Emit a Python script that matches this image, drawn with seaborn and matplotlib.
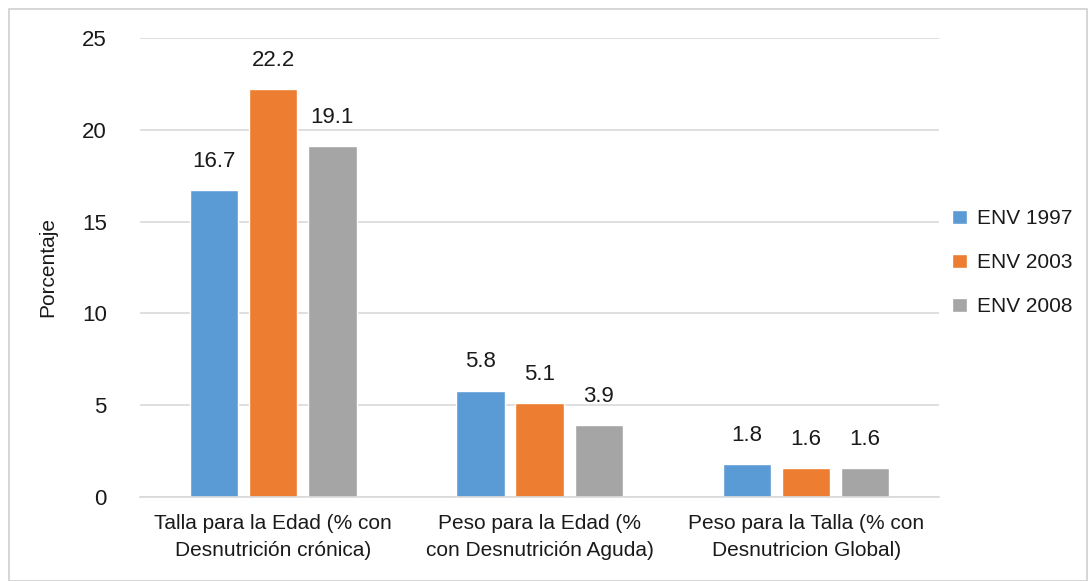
import matplotlib
matplotlib.use("Agg")
import matplotlib.pyplot as plt
import seaborn as sns
import pandas as pd
from matplotlib.patches import Rectangle

categories = ["Talla para la Edad (% con\nDesnutrición crónica)",
              "Peso para la Edad (%\ncon Desnutrición Aguda)",
              "Peso para la Talla (% con\nDesnutricion Global)"]
series = ["ENV 1997", "ENV 2003", "ENV 2008"]
env_1997 = [16.7, 5.8, 1.8]
env_2003 = [22.2, 5.1, 1.6]
env_2008 = [19.1, 3.9, 1.6]
colors = ["#5B9BD5", "#ED7D31", "#A5A5A5"]

rows = []
for s, vals in zip(series, [env_1997, env_2003, env_2008]):
    for c, v in zip(categories, vals):
        rows.append({"cat": c, "serie": s, "valor": v})
df = pd.DataFrame(rows)

sns.set_theme(style="white")
plt.rcParams["font.family"] = ["Liberation Sans", "DejaVu Sans"]

fig = plt.figure(figsize=(10.89, 5.81), dpi=100)
ax = fig.add_axes([0.1286, 0.1446, 0.734, 0.79])

sns.barplot(data=df, x="cat", y="valor", hue="serie", palette=colors,
            width=0.665, gap=0.18, ax=ax, saturation=1, order=categories,
            hue_order=series)

ax.set_ylim(0, 25)
ax.set_yticks([0, 5, 10, 15, 20, 25])
ax.yaxis.grid(True, color="#D9D9D9", linewidth=1.2)
ax.set_axisbelow(True)
for sp in ["top", "right", "left"]:
    ax.spines[sp].set_visible(False)
ax.spines["bottom"].set_color("#D9D9D9")
ax.spines["bottom"].set_linewidth(1.2)
ax.tick_params(axis="y", length=0, pad=24, labelsize=16, labelcolor="#1a1a1a")
ax.tick_params(axis="x", length=0, pad=12, labelsize=15, labelcolor="#1a1a1a")
for lbl in ax.get_xticklabels():
    lbl.set_linespacing(1.55)
ax.set_xlabel("")
ax.set_ylabel("Porcentaje", fontsize=15, color="#1a1a1a", labelpad=18)

for cont in ax.containers:
    ax.bar_label(cont, fmt="%.1f", padding=13, fontsize=16, color="#1a1a1a")

ax.legend(loc="center left", bbox_to_anchor=(1.016, 0.51), frameon=False,
          borderaxespad=0, borderpad=0,
          fontsize=15, handlelength=0.7, handleheight=0.7, handletextpad=0.5,
          labelspacing=1.2, labelcolor="#1a1a1a")

fig.patches.append(Rectangle((0.008, 0.0), 0.99, 0.985, transform=fig.transFigure,
                             fill=False, edgecolor="#D0D0D0", linewidth=1.2))

fig.savefig("out.png", dpi=100)
